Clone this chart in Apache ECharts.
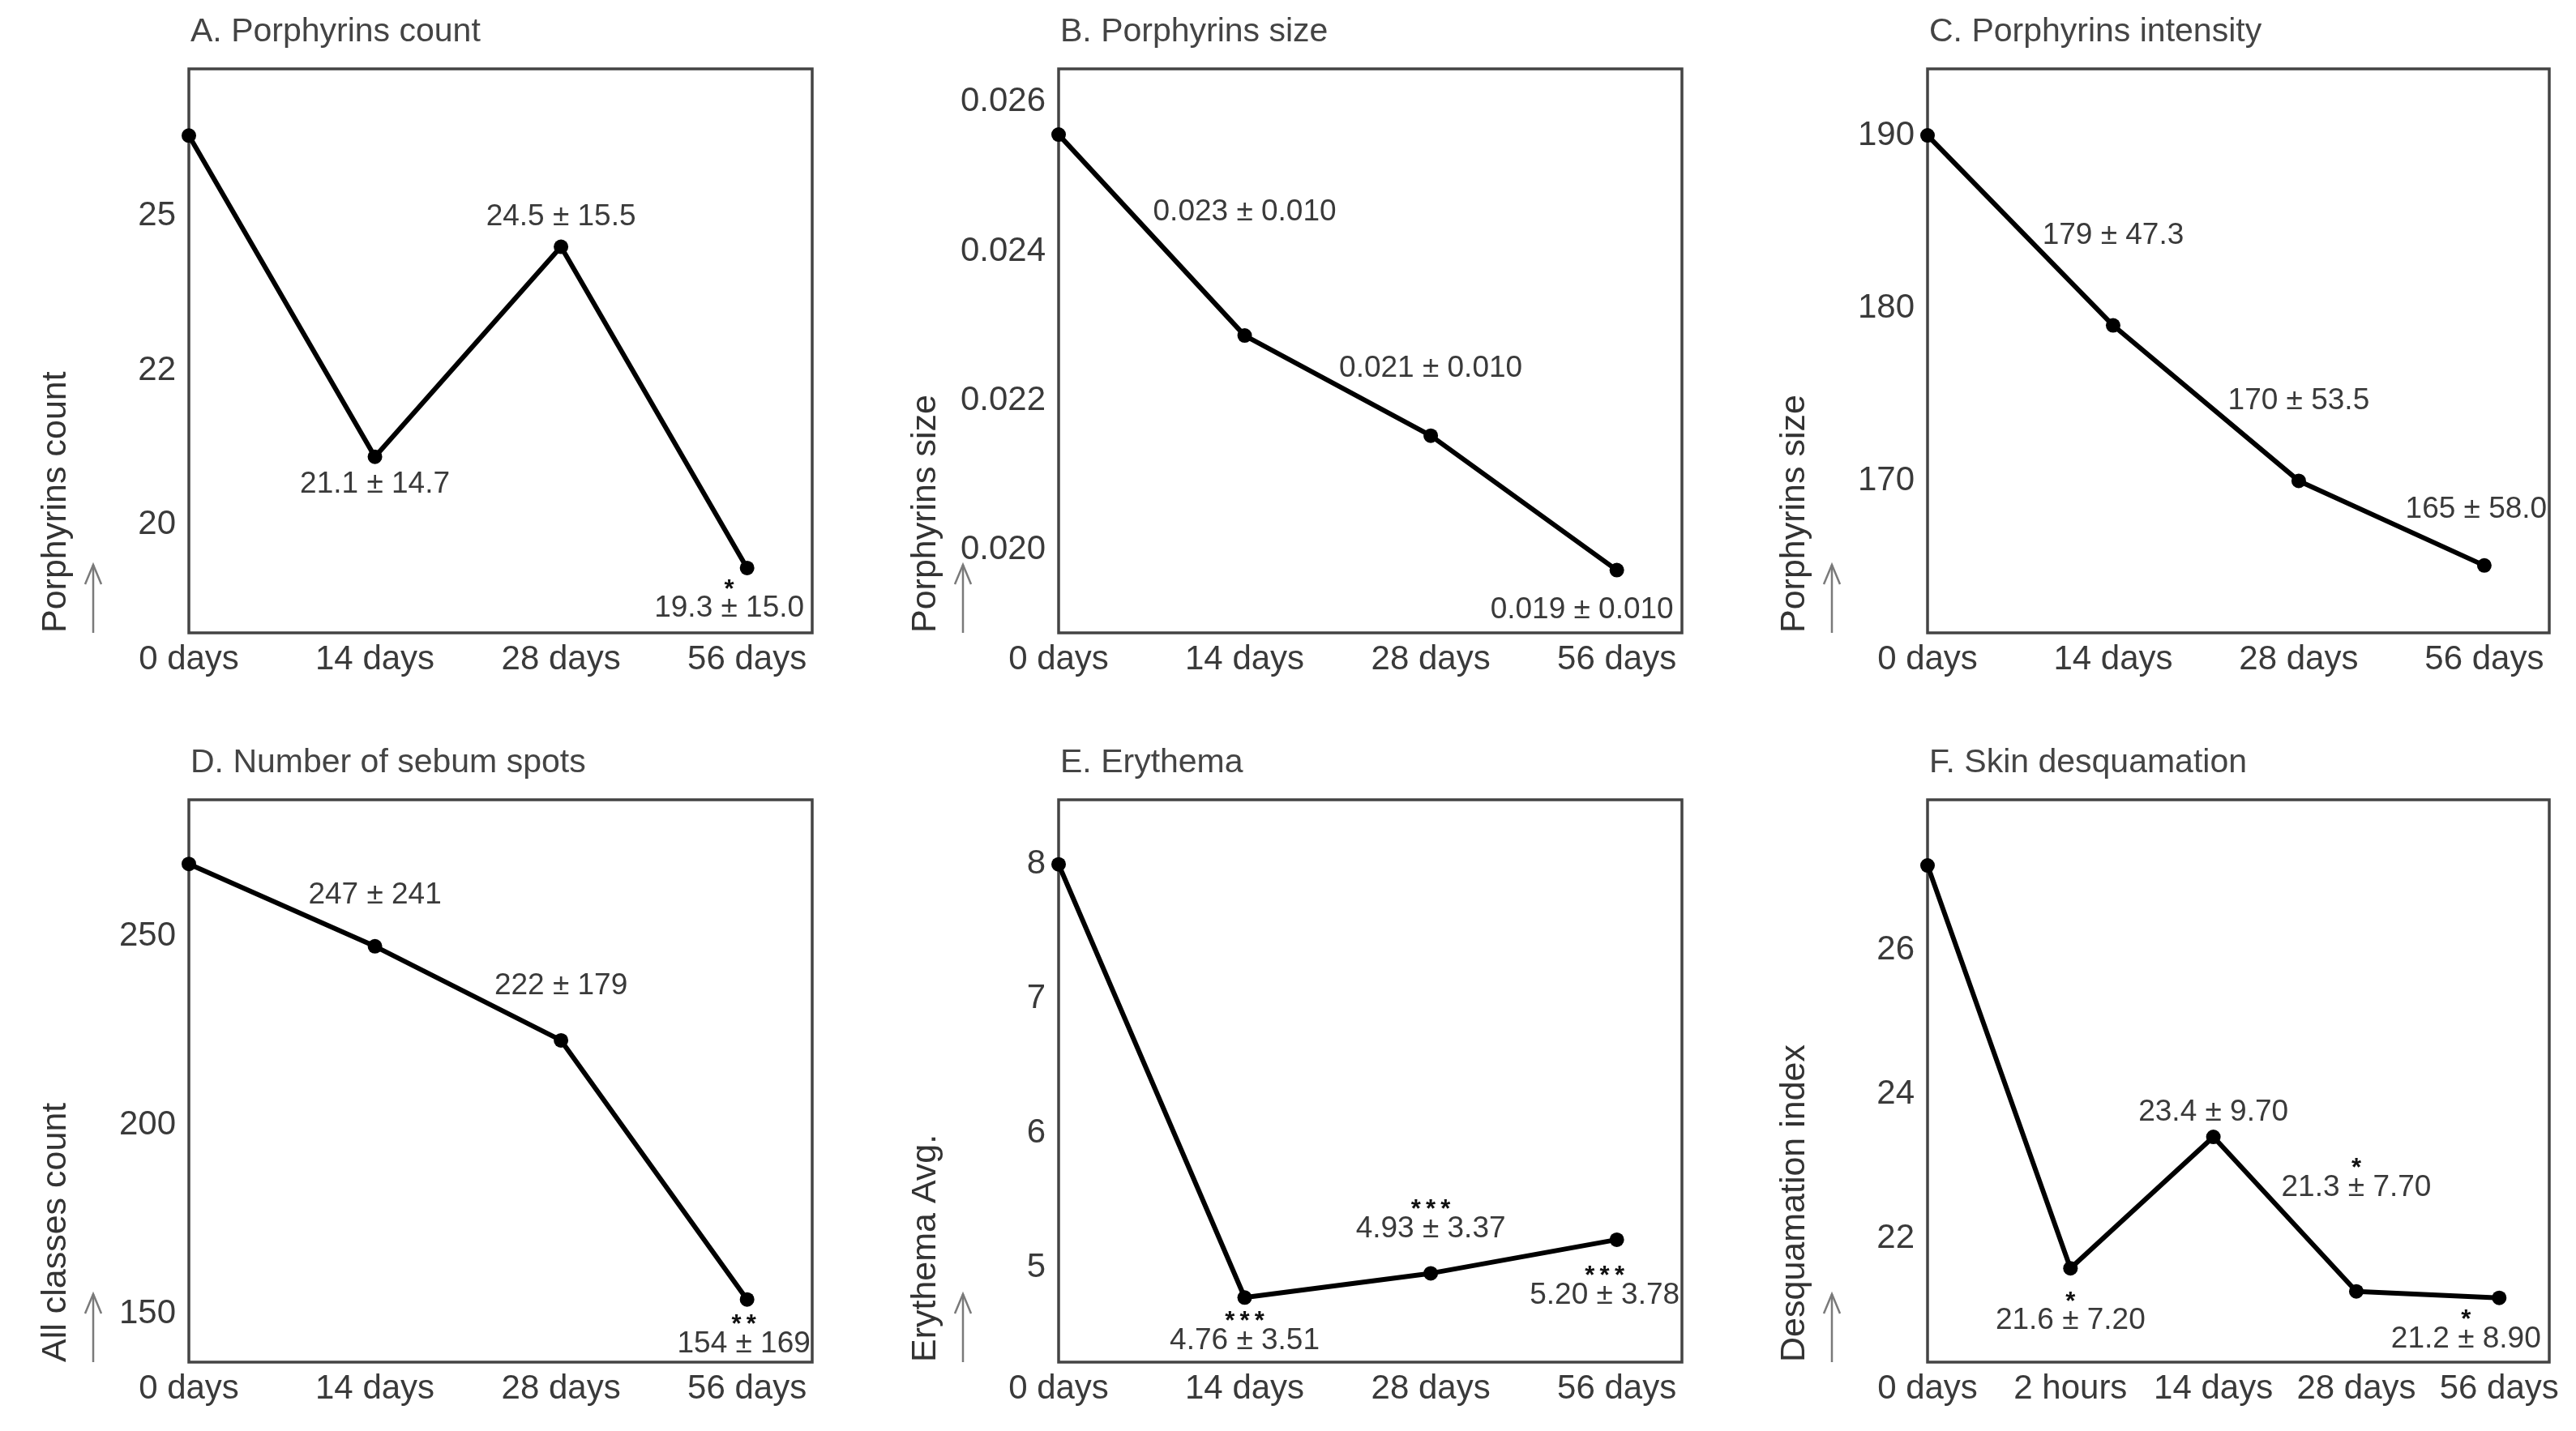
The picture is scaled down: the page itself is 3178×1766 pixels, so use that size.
<!DOCTYPE html>
<html>
<head>
<meta charset="utf-8">
<script src="https://cdn.jsdelivr.net/npm/echarts@6/dist/echarts.min.js"></script>
<style>
html,body{margin:0;padding:0;background:#fff;}
#chart{width:3178px;height:1766px;}
</style>
</head>
<body>
<div id="chart"></div>
<script>
// ---------- DATA ----------
var cats4 = ['0 days', '14 days', '28 days', '56 days'];
var cats5 = ['0 days', '2 hours', '14 days', '28 days', '56 days'];

var titles = ['A. Porphyrins count', 'B. Porphyrins size', 'C. Porphyrins intensity',
              'D. Number of sebum spots', 'E. Erythema', 'F. Skin desquamation'];
var yNames = ['Porphyrins count', 'Porphyrins size', 'Porphyrins size',
              'All classes count', 'Erythema Avg.', 'Desquamation index'];

var valuesA = [26.3, 21.1, 24.5, 19.3];
var valuesB = [0.02556, 0.02287, 0.02153, 0.01973];
var valuesC = [190.0, 179.0, 170.0, 165.1];
var valuesD = [269.2, 247.4, 222.5, 153.9];
var valuesE = [8.0, 4.78, 4.96, 5.21];
var valuesF = [27.17, 21.59, 23.41, 21.27, 21.18];

var sdA = ['', '21.1 ± 14.7', '24.5 ± 15.5', '19.3 ± 15.0'];
var sdB = ['', '0.023 ± 0.010', '0.021 ± 0.010', '0.019 ± 0.010'];
var sdC = ['', '179 ± 47.3', '170 ± 53.5', '165 ± 58.0'];
var sdD = ['', '247 ± 241', '222 ± 179', '154 ± 169'];
var sdE = ['', '4.76 ± 3.51', '4.93 ± 3.37', '5.20 ± 3.78'];
var sdF = ['', '21.6 ± 7.20', '23.4 ± 9.70', '21.3 ± 7.70', '21.2 ± 8.90'];

var starsA = ['', '', '', '*'];
var starsB = ['', '', '', ''];
var starsC = ['', '', '', ''];
var starsD = ['', '', '', '**'];
var starsE = ['', '***', '***', '***'];
var starsF = ['', '*', '', '*', '*'];

var yTicksA = [20, 22.5, 25];            var yTickLabelsA = ['20', '22', '25'];
var yTicksB = [0.020, 0.022, 0.024, 0.026]; var yTickLabelsB = ['0.020', '0.022', '0.024', '0.026'];
var yTicksC = [170, 180, 190];           var yTickLabelsC = ['170', '180', '190'];
var yTicksD = [150, 200, 250];           var yTickLabelsD = ['150', '200', '250'];
var yTicksE = [5, 6, 7, 8];              var yTickLabelsE = ['5', '6', '7', '8'];
var yTicksF = [22, 24, 26];              var yTickLabelsF = ['22', '24', '26'];

var yRangeA = [18.25, 27.38];
var yRangeB = [0.01889, 0.02644];
var yRangeC = [161.2, 193.85];
var yRangeD = [137.3, 286.2];
var yRangeE = [4.30, 8.48];
var yRangeF = [20.29, 28.08];

// ---------- LAYOUT / STYLE ----------
var cols = [{left: 233, width: 769}, {left: 1306, width: 769}, {left: 2378, width: 767}];
var rows = [{top: 85, height: 696}, {top: 987, height: 694}];
// label offsets (value line centre relative to point), px
var placeA = [null, [0, 34], [0, -37], [-22, 50]];
var placeB = [null, [0, -152], [0, -83], [-43, 49]];
var placeC = [null, [0, -111], [0, -99], [-10, -69]];
var placeD = [null, [0, -63], [0, -67], [-4, 55]];
var placeE = [null, [0, 53], [0, -55], [-15, 69]];
var placeF = [null, [0, 65], [0, -30], [0, -128], [-41, 51]];

var FONT = '"Liberation Sans", Arial, Helvetica, sans-serif';
var TXT = '#3a3a3a';

var panels = [
  {cats: cats4, v: valuesA, sd: sdA, st: starsA, tk: yTicksA, tl: yTickLabelsA, r: yRangeA, pl: placeA},
  {cats: cats4, v: valuesB, sd: sdB, st: starsB, tk: yTicksB, tl: yTickLabelsB, r: yRangeB, pl: placeB},
  {cats: cats4, v: valuesC, sd: sdC, st: starsC, tk: yTicksC, tl: yTickLabelsC, r: yRangeC, pl: placeC},
  {cats: cats4, v: valuesD, sd: sdD, st: starsD, tk: yTicksD, tl: yTickLabelsD, r: yRangeD, pl: placeD},
  {cats: cats4, v: valuesE, sd: sdE, st: starsE, tk: yTicksE, tl: yTickLabelsE, r: yRangeE, pl: placeE},
  {cats: cats5, v: valuesF, sd: sdF, st: starsF, tk: yTicksF, tl: yTickLabelsF, r: yRangeF, pl: placeF}
];

var grids = [], xAxes = [], yAxes = [], series = [], titleArr = [], graphics = [];

panels.forEach(function (p, i) {
  var c = cols[i % 3], rw = rows[Math.floor(i / 3)];
  grids.push({
    left: c.left, top: rw.top, width: c.width, height: rw.height,
    show: true, borderColor: '#444', borderWidth: 3.5, backgroundColor: 'transparent',
    containLabel: false, outerBoundsMode: 'none'
  });
  titleArr.push({
    text: titles[i], left: c.left + 2, top: rw.top - 66, padding: 0,
    textStyle: {fontFamily: FONT, fontSize: 41, fontWeight: 'normal', color: '#444'}
  });
  var cats = p.cats;
  var idx = cats.map(function (_, k) { return k; });
  xAxes.push({
    gridIndex: i, type: 'value', min: 0, max: cats.length - 1 + 0.35,
    axisLine: {show: false}, axisTick: {show: false}, splitLine: {show: false},
    axisLabel: {
      customValues: idx, margin: 12, fontFamily: FONT, fontSize: 42, color: TXT,
      formatter: function (v) { return cats[Math.round(v)]; }
    }
  });
  var tk = p.tk, tl = p.tl;
  yAxes.push({
    gridIndex: i, type: 'value', min: p.r[0], max: p.r[1],
    axisLine: {show: false}, axisTick: {show: false}, splitLine: {show: false},
    axisLabel: {
      customValues: tk, margin: 16, fontFamily: FONT, fontSize: 42, color: TXT,
      formatter: function (v) {
        for (var k = 0; k < tk.length; k++) { if (Math.abs(tk[k] - v) < 1e-9) return tl[k]; }
        return '';
      }
    },
    name: yNames[i], nameLocation: 'start', nameGap: 0, nameRotate: 90, nameMoveOverlap: false,
    nameTextStyle: {fontFamily: FONT, fontSize: 43, color: '#333', align: 'left', verticalAlign: 'bottom', padding: [0, 0, 142, 0]}
  });
  var data = p.v.map(function (val, k) {
    var item = {value: [k, val]};
    if (p.sd[k]) {
      var off = p.pl[k];
      var txt = (p.st[k] ? '{s|' + p.st[k].split('').join('\u2009') + '}\n' : '') + '{v|' + p.sd[k] + '}';
      item.label = {show: true, offset: [off[0], off[1] + 20], formatter: txt};
    } else {
      item.label = {show: false};
    }
    return item;
  });
  series.push({
    type: 'line', xAxisIndex: i, yAxisIndex: i, data: data,
    symbol: 'circle', symbolSize: 18, clip: false,
    itemStyle: {color: '#000'},
    lineStyle: {color: '#000', width: 6},
    animation: false,
    label: {
      show: true, position: 'inside', align: 'center', verticalAlign: 'bottom',
      fontFamily: FONT,
      rich: {
        v: {fontFamily: FONT, fontSize: 37, lineHeight: 40, color: TXT},
        s: {fontFamily: FONT, fontSize: 31, lineHeight: 6, color: '#111', fontWeight: 'bold'}
      }
    },
    emphasis: {disabled: true}
  });
  // up-arrow beside the axis name
  var ax = c.left - 118, yb = rw.top + rw.height, yt = yb - 84;
  graphics.push({type: 'line', shape: {x1: ax, y1: yb, x2: ax, y2: yt}, style: {stroke: '#7a7a7a', lineWidth: 2.5}, silent: true});
  graphics.push({type: 'polyline', shape: {points: [[ax - 10, yt + 24], [ax, yt], [ax + 10, yt + 24]]}, style: {stroke: '#7a7a7a', lineWidth: 2.5, fill: null}, silent: true});
});

var chart = echarts.init(document.getElementById('chart'), null, {renderer: 'canvas'});
chart.setOption({
  backgroundColor: '#fff',
  animation: false,
  title: titleArr,
  grid: grids,
  xAxis: xAxes,
  yAxis: yAxes,
  series: series,
  graphic: graphics
});
</script>
</body>
</html>
